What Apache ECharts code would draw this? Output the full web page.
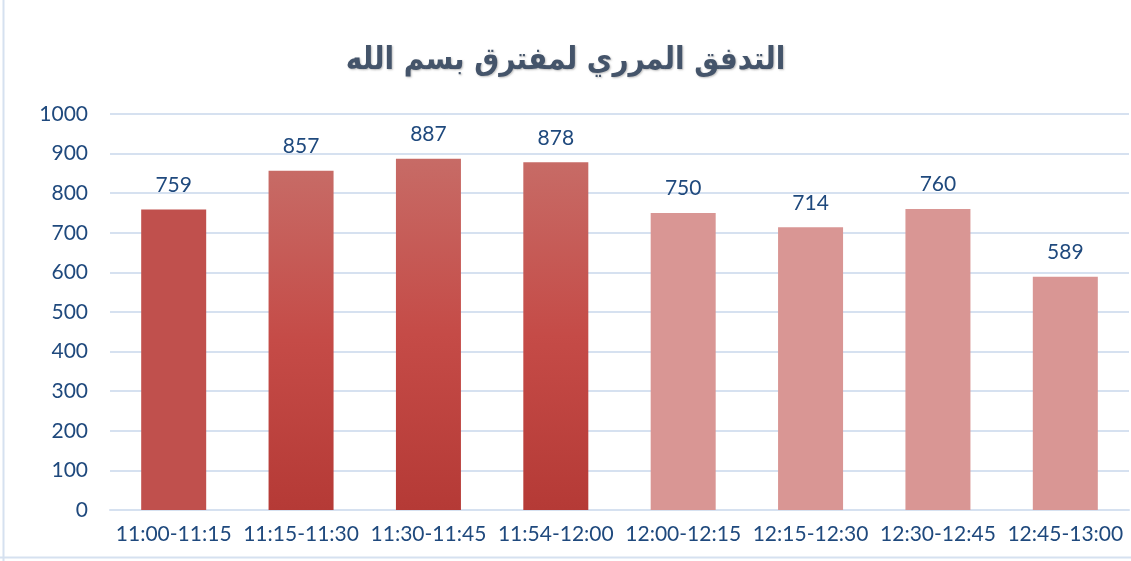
<!DOCTYPE html>
<html>
<head>
<meta charset="utf-8">
<script src="https://cdn.jsdelivr.net/npm/echarts@6/dist/echarts.min.js"></script>
<style>
html,body{margin:0;padding:0;background:#fff;}
#c{width:1131px;height:561px;}
</style>
</head>
<body>
<div id="c"></div>
<script>
const categories = ['11:00-11:15','11:15-11:30','11:30-11:45','11:54-12:00','12:00-12:15','12:15-12:30','12:30-12:45','12:45-13:00'];
const values = [759, 857, 887, 878, 750, 714, 760, 589];
const yTicks = [0,100,200,300,400,500,600,700,800,900,1000];
const titleText = 'التدفق المرري لمفترق بسم الله';

const solid = '#c0504d';
const grad = new echarts.graphic.LinearGradient(0,0,0,1,[
  {offset:0,color:'#c76b66'},
  {offset:0.5,color:'#c54b47'},
  {offset:1,color:'#b53a36'}
]);
const light = '#d99694';
function colorFor(i){ if(i===0) return solid; if(i<=3) return grad; return light; }

const chart = echarts.init(document.getElementById('c'));
chart.setOption({
  animation:false,
  backgroundColor:'#fff',
  title:{
    text:titleText,
    left:'center',
    top:40,
    textStyle:{fontFamily:'DejaVu Sans Condensed, DejaVu Sans',fontWeight:'bold',fontSize:31,color:'#44546a',
      textShadowColor:'rgba(0,0,0,0.25)',textShadowBlur:2,textShadowOffsetX:1,textShadowOffsetY:1}
  },
  grid:{left:110,right:2,top:114,bottom:51,containLabel:false},
  xAxis:{
    type:'category',
    data:categories,
    axisLine:{show:true,lineStyle:{color:'#d6e1f0',width:2}},
    axisTick:{show:false},
    axisLabel:{color:'#1f497d',fontFamily:'Lato',fontSize:21,margin:14,interval:0}
  },
  yAxis:{
    type:'value',
    min:yTicks[0],max:yTicks[yTicks.length-1],interval:100,
    axisLine:{show:false},
    axisTick:{show:false},
    splitLine:{lineStyle:{color:'#d6e1f0',width:2}},
    axisLabel:{color:'#1f497d',fontFamily:'Lato',fontSize:21,margin:22,formatter:v=>String(v)}
  },
  series:[{
    type:'bar',
    barWidth:65,
    data:values.map((v,i)=>({value:v,itemStyle:{color:colorFor(i)}})),
    label:{show:true,position:'top',distance:14,color:'#1f497d',fontFamily:'Lato',fontSize:21}
  }],
  graphic:[
    {type:'line',shape:{x1:3.5,y1:0,x2:3.5,y2:561},style:{stroke:'#d6e1f0',lineWidth:2}},
    {type:'line',shape:{x1:0,y1:557.5,x2:1131,y2:557.5},style:{stroke:'#d6e1f0',lineWidth:2}}
  ]
});
</script>
</body>
</html>
